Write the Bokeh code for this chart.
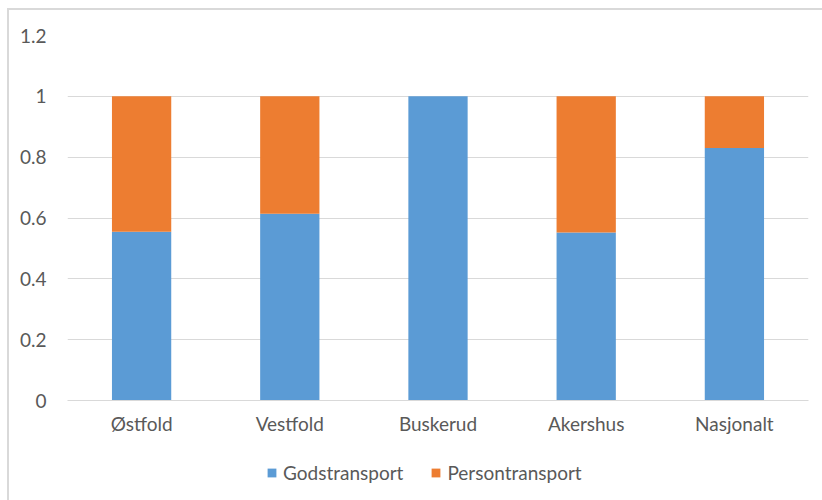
from bokeh.plotting import figure
from bokeh.layouts import column
from bokeh.models import ColumnDataSource, FixedTicker, Legend, LegendItem
from bokeh.embed import file_html
from bokeh.resources import INLINE

# Andel av transportarbeid per område
regions = ["Østfold", "Vestfold", "Buskerud", "Akershus", "Nasjonalt"]
godstransport = [0.555, 0.614, 1.0, 0.552, 0.830]
persontransport = [0.445, 0.386, 0.0, 0.448, 0.170]
series = ["Godstransport", "Persontransport"]
colors = ["#5b9bd5", "#ed7d31"]
y_ticks = [0, 0.2, 0.4, 0.6, 0.8, 1.0, 1.2]
y_tick_labels = ["0", "0.2", "0.4", "0.6", "0.8", "1", "1.2"]

source = ColumnDataSource(dict(region=regions,
                               Godstransport=godstransport,
                               Persontransport=persontransport))

FONT = "Lato"
GREY = "#595959"
SIZE = "19px"

# main stacked bar chart
p = figure(x_range=regions, y_range=(0, 1.2), width=813, height=430,
           output_backend="svg", toolbar_location=None,
           min_border_left=58, min_border_right=14, min_border_top=25,
           min_border_bottom=40)

p.vbar_stack(series, x="region", width=0.4, color=colors,
             line_color=None, source=source)

p.outline_line_color = None
p.xgrid.grid_line_color = None
p.ygrid.grid_line_color = "#d9d9d9"
p.ygrid.grid_line_width = 1

p.yaxis.ticker = FixedTicker(ticks=y_ticks)
p.yaxis.major_label_overrides = {t: s for t, s in zip(y_ticks, y_tick_labels)}
p.yaxis.axis_line_color = None
p.yaxis.major_tick_line_color = None
p.yaxis.minor_tick_line_color = None
p.yaxis.major_label_standoff = 15

p.xaxis.axis_line_color = "#d9d9d9"
p.xaxis.major_tick_line_color = None
p.xaxis.major_label_standoff = 5

for ax in (p.xaxis[0], p.yaxis[0]):
    ax.major_label_text_font = FONT
    ax.major_label_text_font_size = SIZE
    ax.major_label_text_color = GREY

# legend strip underneath; its bars sit outside the visible y range
lp = figure(x_range=regions, y_range=(5, 6), width=813, height=60,
            output_backend="svg", toolbar_location=None,
            min_border_left=0, min_border_right=0, min_border_top=0,
            min_border_bottom=0)
legend_renderers = lp.vbar_stack(series, x="region", width=0.4, color=colors,
                                 line_color=None, source=source)
lp.axis.visible = False
lp.grid.grid_line_color = None
lp.outline_line_color = None

legend = Legend(items=[LegendItem(label=s, renderers=[r])
                       for s, r in zip(series, legend_renderers)],
                orientation="horizontal", location=(199, 16),
                label_text_font=FONT, label_text_font_size=SIZE,
                label_text_color=GREY, glyph_width=11, glyph_height=11,
                spacing=27, label_standoff=6, border_line_color=None,
                background_fill_alpha=0, padding=0, margin=0)
lp.add_layout(legend)

layout = column(p, lp, spacing=0, margin=(8, 0, 0, 7),
                styles={"border-top": "2px solid #d9d9d9",
                        "border-left": "2px solid #d9d9d9"})

open("out.html", "w").write(file_html(layout, INLINE))
